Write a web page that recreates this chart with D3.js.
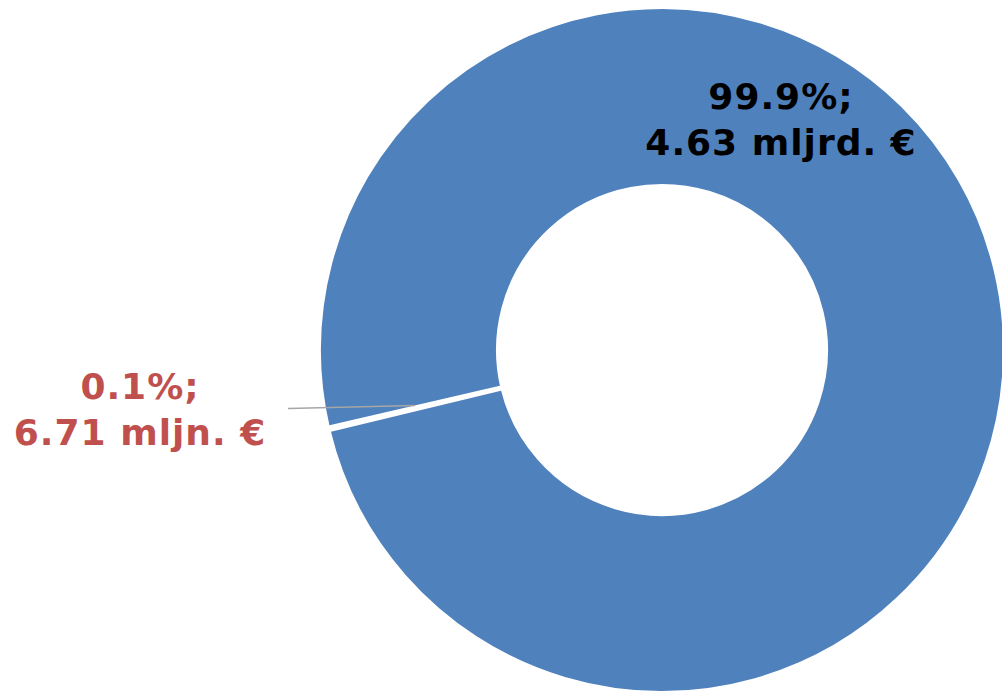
<!DOCTYPE html>
<html><head><meta charset="utf-8">
<script src="https://cdn.jsdelivr.net/npm/d3@7"></script>
<style>html,body{margin:0;padding:0;background:#fff;overflow:hidden}</style>
</head><body>
<svg id="c" width="1002" height="693"></svg>
<script>
const categories = ["Big", "Small"];
const values = [4630, 6.71];
const pctLabels = ["99.9%;", "0.1%;"];
const amountLabels = ["4.63 mljrd. €", "6.71 mljn. €"];
const colors = ["#4F81BD", "#C0504D"];

const svg = d3.select("#c");
const cx = 662, cy = 350, R = 342, r = 165;
// small slice centred at ~256.7° (clockwise from 12 o'clock)
const smallFrac = values[1] / d3.sum(values);
const start = (256.7 / 180 * Math.PI) - 2 * Math.PI * (1 - smallFrac / 2);
const pie = d3.pie().sort(null).value(d => d).startAngle(start).endAngle(start + 2 * Math.PI);
const arcs = pie(values);
const arc = d3.arc().innerRadius(r).outerRadius(R);
const g = svg.append("g").attr("transform", `translate(${cx},${cy})`);
g.selectAll("path").data(arcs).join("path")
  .attr("d", arc)
  .attr("fill", (d, i) => colors[i])
  .attr("stroke", "#fff")
  .attr("stroke-width", (d, i) => i === 0 ? 2 : 3.5)
  .attr("stroke-linejoin", "round");

// leader line for small slice
svg.append("path")
  .attr("d", "M288,408.5L415,405.5")
  .attr("stroke", "#A6A6A6").attr("stroke-width", 1.6).attr("fill", "none");

const font = "'DejaVu Sans', Verdana, sans-serif";
function label(x, y1, i, color) {
  const t = svg.append("text").attr("text-anchor", "middle")
    .attr("font-family", font).attr("font-weight", "bold").attr("font-size", 36)
    .attr("letter-spacing", 1)
    .attr("fill", color);
  t.append("tspan").attr("x", x).attr("y", y1).text(pctLabels[i]);
  t.append("tspan").attr("x", x).attr("y", y1 + 46).text(amountLabels[i]);
}
label(781, 109, 0, "#000");
label(140, 399, 1, "#C0504D");
</script>
</body></html>
